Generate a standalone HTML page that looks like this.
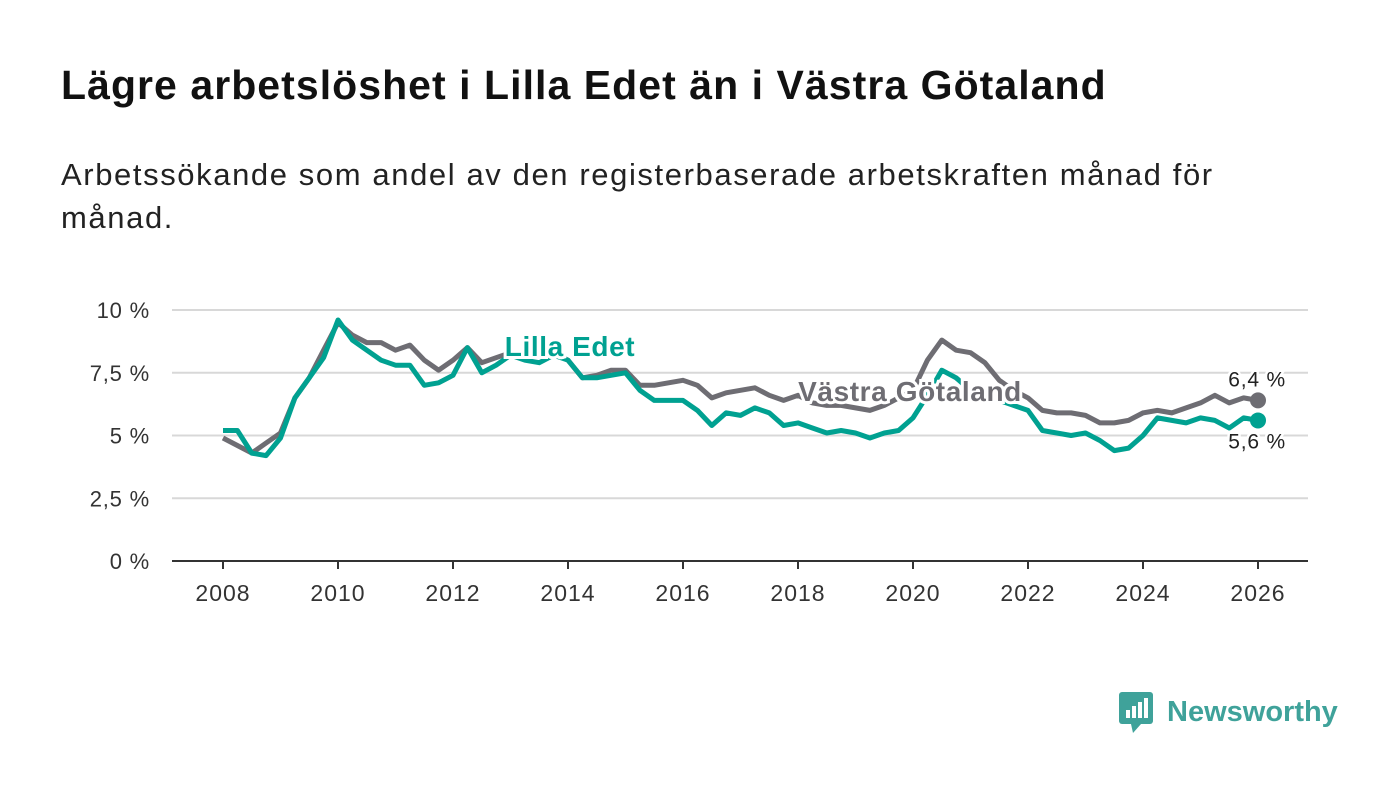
<!DOCTYPE html>
<html><head><meta charset="utf-8"><style>
body{margin:0;background:#fff;font-family:"Liberation Sans",sans-serif;}
#wrap{position:relative;width:1400px;height:794px;overflow:hidden;}
h1{position:absolute;left:61px;top:62px;margin:0;font-size:41px;letter-spacing:1.05px;font-weight:bold;color:#111;white-space:nowrap;}
.sub{position:absolute;left:61px;top:153px;margin:0;font-size:31px;letter-spacing:1.6px;line-height:43px;color:#222;width:1200px;}
</style></head><body>
<div id="wrap">
<h1>Lägre arbetslöshet i Lilla Edet än i Västra Götaland</h1>
<p class="sub">Arbetssökande som andel av den registerbaserade arbetskraften månad för månad.</p>
<svg id="chart" width="1400" height="794" style="position:absolute;left:0;top:0"></svg>
<div style="position:absolute;left:1119px;top:690px;display:flex;align-items:center">
<svg width="36" height="44"><rect x="0" y="2" width="34" height="32" rx="3" fill="#3fa29a"/><polygon points="12,34 22,34 14,43" fill="#3fa29a"/><rect x="7" y="20" width="4" height="8" fill="#fff"/><rect x="13" y="16" width="4" height="12" fill="#fff"/><rect x="19" y="12" width="4" height="16" fill="#fff"/><rect x="25" y="8" width="4" height="20" fill="#fff"/></svg>
<span style="font-size:29px;font-weight:bold;color:#3fa29a;margin-left:12px;">Newsworthy</span></div>
</div>
<script>
const startYear = 2008;
const stepYears = 0.25;
const vgValues = [4.9,4.6,4.3,4.7,5.1,6.5,7.3,8.4,9.5,9.0,8.7,8.7,8.4,8.6,8.0,7.6,8.0,8.5,7.9,8.1,8.3,8.3,8.2,8.3,8.0,7.3,7.4,7.6,7.6,7.0,7.0,7.1,7.2,7.0,6.5,6.7,6.8,6.9,6.6,6.4,6.6,6.3,6.2,6.2,6.1,6.0,6.2,6.5,6.8,8.0,8.8,8.4,8.3,7.9,7.2,6.8,6.5,6.0,5.9,5.9,5.8,5.5,5.5,5.6,5.9,6.0,5.9,6.1,6.3,6.6,6.3,6.5,6.4];
const leValues = [5.2,5.2,4.3,4.2,4.9,6.5,7.3,8.1,9.6,8.8,8.4,8.0,7.8,7.8,7.0,7.1,7.4,8.5,7.5,7.8,8.2,8.0,7.9,8.2,8.0,7.3,7.3,7.4,7.5,6.8,6.4,6.4,6.4,6.0,5.4,5.9,5.8,6.1,5.9,5.4,5.5,5.3,5.1,5.2,5.1,4.9,5.1,5.2,5.7,6.6,7.6,7.3,6.8,6.6,6.4,6.2,6.0,5.2,5.1,5.0,5.1,4.8,4.4,4.5,5.0,5.7,5.6,5.5,5.7,5.6,5.3,5.7,5.6];
const yTicks = [0,2.5,5,7.5,10];
const yTickLabels = ["0 %","2,5 %","5 %","7,5 %","10 %"];
const xTicks = [2008,2010,2012,2014,2016,2018,2020,2022,2024,2026];

const NS="http://www.w3.org/2000/svg";
const svg=document.getElementById('chart');
const X=d=>223+(d-2008)*(1258-223)/18;
const Y=v=>561-v*(561-310)/10;
function el(t,a,txt){const e=document.createElementNS(NS,t);for(const k in a)e.setAttribute(k,a[k]);if(txt!==undefined)e.textContent=txt;svg.appendChild(e);return e;}
yTicks.forEach((v,i)=>{
 if(v>0){const g=el('line',{x1:172,x2:1308,y1:Y(v),y2:Y(v),stroke:'#d8d8d8','stroke-width':2});
 
 }
 const t=el('text',{x:150,y:Y(v)+8,'text-anchor':'end','font-size':22,'letter-spacing':0.8,fill:'#333','font-family':'Liberation Sans'},yTickLabels[i]);
 
 
});
const ax=el('line',{x1:172,x2:1308,y1:561,y2:561,stroke:'#333','stroke-width':2});


xTicks.forEach(yr=>{
 const tk=el('line',{x1:X(yr),x2:X(yr),y1:561,y2:569,stroke:'#333','stroke-width':2});
 
 
 const t=el('text',{x:X(yr),y:601,'text-anchor':'middle','font-size':23,'letter-spacing':1,fill:'#333','font-family':'Liberation Sans'},String(yr));
 
 
});
function pts(vals){return vals.map((v,i)=>X(startYear+i*stepYears).toFixed(1)+','+Y(v).toFixed(1)).join(' ');}
const lv=el('polyline',{points:pts(vgValues),fill:'none',stroke:'#6e6d73','stroke-width':5,'stroke-linejoin':'round'});


const ll=el('polyline',{points:pts(leValues),fill:'none',stroke:'#00a191','stroke-width':5,'stroke-linejoin':'round'});


const lastI=vgValues.length-1;
const dv=el('circle',{cx:X(startYear+lastI*stepYears),cy:Y(vgValues[lastI]),r:8,fill:'#6e6d73'});


const dl=el('circle',{cx:X(startYear+lastI*stepYears),cy:Y(leValues[lastI]),r:8,fill:'#00a191'});


const ev=el('text',{x:1286,y:Y(vgValues[lastI])-14,'text-anchor':'end','font-size':21,'letter-spacing':0.8,fill:'#222','font-family':'Liberation Sans',stroke:'#fff','stroke-width':5,'paint-order':'stroke'},vgValues[lastI].toFixed(1).replace('.',',')+' %');


const evl=el('text',{x:1286,y:Y(leValues[lastI])+28,'text-anchor':'end','font-size':21,'letter-spacing':0.8,fill:'#222','font-family':'Liberation Sans',stroke:'#fff','stroke-width':5,'paint-order':'stroke'},leValues[lastI].toFixed(1).replace('.',',')+' %');


const lab1=el('text',{x:570,y:356,'text-anchor':'middle','font-size':28,'letter-spacing':0.6,'font-weight':'bold',fill:'#00a191','font-family':'Liberation Sans',stroke:'#fff','stroke-width':6,'paint-order':'stroke'},'Lilla Edet');


const lab2=el('text',{x:910,y:401,'text-anchor':'middle','font-size':28,'letter-spacing':0.6,'font-weight':'bold',fill:'#6e6d73','font-family':'Liberation Sans',stroke:'#fff','stroke-width':6,'paint-order':'stroke'},'Västra Götaland');


</script>
</body></html>
